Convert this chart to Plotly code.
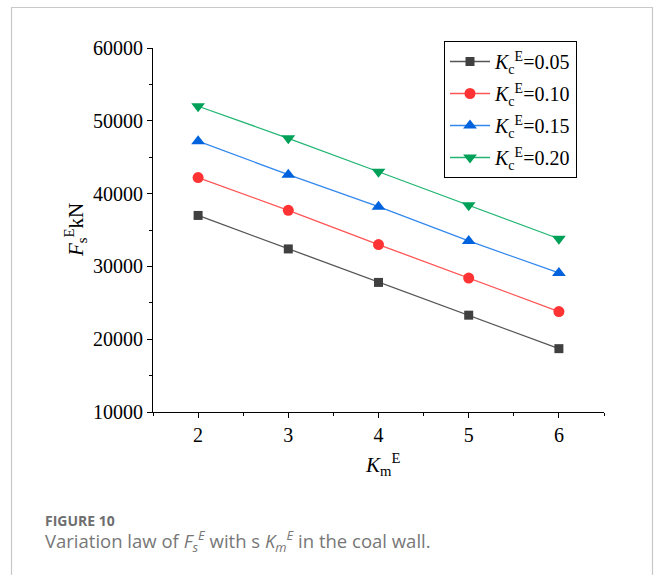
import plotly.graph_objects as go

# K_m^E values on the x axis
km = [2, 3, 4, 5, 6]

# F_s^E (kN) for each K_c^E level
fs_005 = [37000, 32400, 27800, 23300, 18700]
fs_010 = [42200, 37700, 33000, 28400, 23800]
fs_015 = [47200, 42600, 38200, 33500, 29100]
fs_020 = [52000, 47600, 43000, 38400, 33800]

series_labels = ["0.05", "0.10", "0.15", "0.20"]
series_values = [fs_005, fs_010, fs_015, fs_020]

line_colors = ["#555555", "#FF5555", "#3388EE", "#22B573"]
marker_colors = ["#404040", "#FF3333", "#0062DD", "#00A058"]
marker_symbols = ["square", "circle", "triangle-up", "triangle-down"]
marker_sizes = [9, 11, 12, 12]

SERIF = "Liberation Serif"
SANS = "Open Sans"

fig = go.Figure()
for i, (lab, vals, lc, mc, sym, sz) in enumerate(zip(series_labels, series_values, line_colors,
                                                     marker_colors, marker_symbols, marker_sizes)):
    fig.add_trace(go.Scatter(
        x=km, y=vals, mode="lines+markers",
        name=f"<i>K</i><sub>c</sub><sup>E</sup>=" + lab,
        legendgroup=f"g{i}",
        line=dict(color=lc, width=1.3),
        marker=dict(symbol=sym, size=sz, color=mc),
    ))

# plot area: x 153..604 px, y 48..412 px in a 654x575 page
L, R, T, B = 153, 50, 48, 163
W, H = 654 - L - R, 575 - T - B


def px(x):
    return (x - L) / W


def py(y):
    return (575 - B - y) / H


fig.update_layout(
    width=654, height=575,
    margin=dict(l=L, r=R, t=T, b=B),
    paper_bgcolor="white", plot_bgcolor="white",
    font=dict(family=SERIF, size=20, color="black"),
    showlegend=True,
    legend=dict(
        x=px(444), y=py(41), xanchor="left", yanchor="top",
        bordercolor="black", borderwidth=1, bgcolor="white",
        font=dict(family=SERIF, size=20, color="black"),
        tracegroupgap=3, itemwidth=40,
    ),
    xaxis=dict(
        range=[1.5, 6.5], tickvals=km, ticks="outside", ticklen=5,
        tickcolor="black", showline=True, linecolor="black", linewidth=1,
        showgrid=False, zeroline=False,
        minor=dict(dtick=0.5, tick0=1.5, ticks="outside", ticklen=3, tickcolor="black"),
        tickfont=dict(family=SERIF, size=20),
    ),
    yaxis=dict(
        range=[10000, 60000], dtick=10000, tick0=10000, tickformat="d",
        ticks="outside", ticklen=5,
        tickcolor="black", showline=True, linecolor="black", linewidth=1,
        showgrid=False, zeroline=False,
        minor=dict(dtick=5000, tick0=10000, ticks="outside", ticklen=3, tickcolor="black"),
        tickfont=dict(family=SERIF, size=20),
    ),
)

annotations = [
    dict(text="<i>F</i><sub>s</sub><sup>E</sup>kN", x=px(75), y=py(230),
         xanchor="center", yanchor="middle",
         xref="paper", yref="paper", showarrow=False, textangle=-90,
         font=dict(family=SERIF, size=21, color="black")),
    dict(text="<i>K</i><sub>m</sub><sup>E</sup>", x=px(382), y=py(464),
         xanchor="center", yanchor="middle",
         xref="paper", yref="paper", showarrow=False,
         font=dict(family=SERIF, size=21, color="black")),
    dict(text="<b>FIGURE 10</b>", x=px(43), y=py(520), xanchor="left", yanchor="middle",
         xref="paper", yref="paper", showarrow=False,
         font=dict(family=SANS, size=14, color="#6E6E6E")),
    dict(text="Variation law of <i>F<sub>s</sub><sup>E</sup></i> with s "
              "<i>K<sub>m</sub><sup>E</sup></i> in the coal wall.",
         x=px(43), y=py(541), xanchor="left", yanchor="middle",
         xref="paper", yref="paper", showarrow=False,
         font=dict(family=SANS, size=18.5, color="#777777")),
]
fig.update_layout(annotations=annotations)

# light card border around the figure
fig.add_shape(type="rect", xref="paper", yref="paper",
              x0=px(11.5), x1=px(652.5), y0=py(600), y1=py(7.5),
              line=dict(color="#C8C8C8", width=1.2), fillcolor="rgba(0,0,0,0)",
              layer="below")

fig.write_html("out.html")
